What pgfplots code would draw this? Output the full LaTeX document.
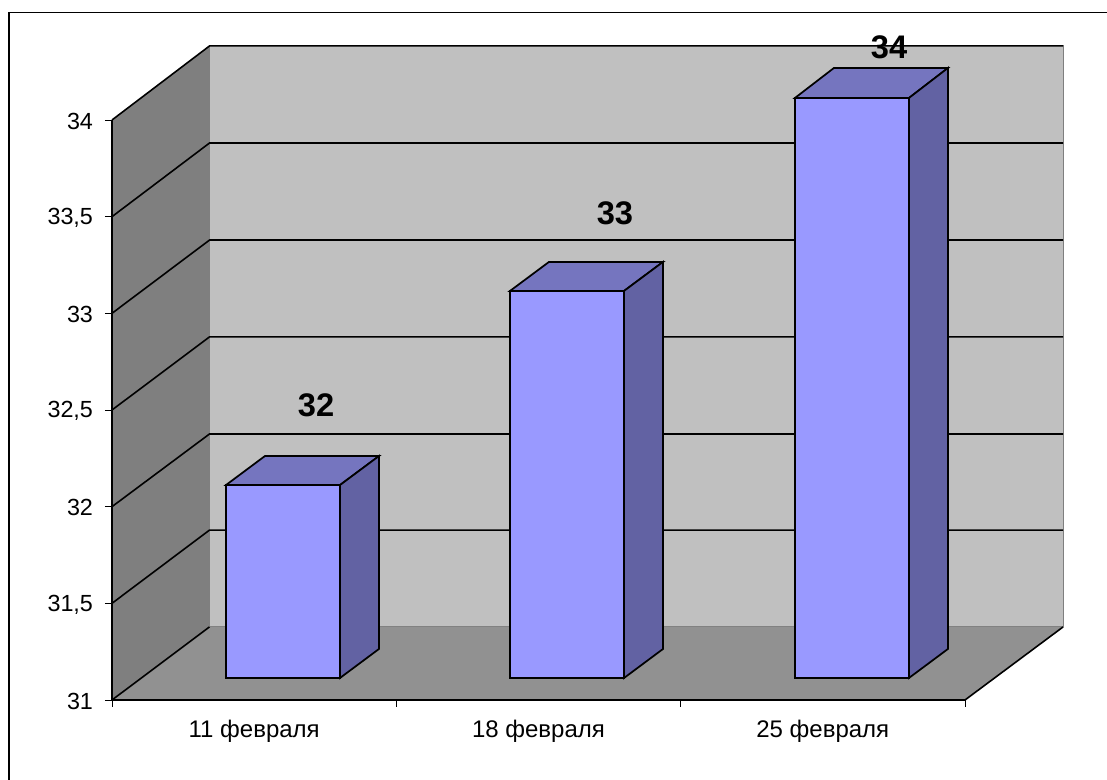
\documentclass[border=0pt]{standalone}
\usepackage{pgfplots}
\pgfplotsset{compat=1.18}
\usepackage{fontspec}
\setmainfont{Liberation Sans}
\definecolor{backwall}{HTML}{C0C0C0}
\definecolor{sidewall}{HTML}{7F7F7F}
\definecolor{floorcol}{HTML}{919191}
\definecolor{barfront}{HTML}{9999FF}
\definecolor{bartop}{HTML}{7575BF}
\definecolor{barside}{HTML}{6262A3}
\begin{document}
\begin{tikzpicture}[x=1pt,y=1pt]
  \useasboundingbox (-84,-60) rectangle (746.25,525);
  \draw[line width=0.9pt] (-77.25,-60) -- (-77.25,515.6) -- (746.25,515.6);
  \begin{axis}[at={(0,0)},anchor=origin,
               scale only axis,
               width=639.75pt, height=435pt,
               xmin=0, xmax=3, ymin=31, ymax=34,
               clip=false,
               axis on top,
               axis lines=left,
               axis line style={-,line width=1.3pt},
               xtick={0.5,1.5,2.5},
               xticklabels={11 февраля,18 февраля,25 февраля},
               minor xtick={0,1,2,3},
               ytick={31,31.5,32,32.5,33,33.5,34},
               major x tick style={draw=none},
               tick style={black,line width=0.7pt},
               minor tick length=5.25pt,
               major tick length=5.25pt,
               tick align=outside,
               xticklabel style={font=\fontsize{18}{18}\selectfont,yshift=-6.5pt},
               yticklabel style={font=\fontsize{17.5}{17}\selectfont,xshift=-5.5pt,yshift=-0.8pt},
               /pgf/number format/use comma,
               /pgf/number format/assume math mode=true,
               yticklabel={\pgfmathprintnumber[fixed,precision=1]{\tick}}]
   % walls and floor
   \addplot[fill=backwall,draw=sidewall,line width=0.8pt] coordinates{(0.343,31.378)(3.345,31.378)(3.345,34.383)(0.343,34.383)} -- cycle;
   \addplot[fill=sidewall,draw=none] coordinates{(0,31)(0.343,31.378)(0.343,34.383)(0,34)} -- cycle;
   \addplot[fill=floorcol,draw=none] coordinates{(0,31)(3,31)(3.345,31.378)(0.343,31.378)} -- cycle;
   \addplot[black,line width=1.2pt] coordinates{(0,34)(0.343,34.383)(3.345,34.383)};
   \addplot[black,line width=1.2pt] coordinates{(0,31)(0.343,31.378)};
   \addplot[black,line width=1.2pt] coordinates{(3,31)(3.345,31.378)};
   % grid
   \addplot[black,line width=1.2pt] coordinates{(0,31.5)(0.343,31.879)(3.345,31.879)};
   \addplot[black,line width=1.2pt] coordinates{(0,32)(0.343,32.376)(3.345,32.376)};
   \addplot[black,line width=1.2pt] coordinates{(0,32.5)(0.343,32.878)(3.345,32.878)};
   \addplot[black,line width=1.2pt] coordinates{(0,33)(0.343,33.379)(3.345,33.379)};
   \addplot[black,line width=1.2pt] coordinates{(0,33.5)(0.343,33.881)(3.345,33.881)};
   % 11 февраля
   \addplot[fill=barfront,draw=black,line width=1.3pt] coordinates{(0.401,31.114)(0.802,31.114)(0.802,32.112)(0.401,32.112)} -- cycle;
   \addplot[fill=bartop,draw=black,line width=1.3pt] coordinates{(0.401,32.112)(0.802,32.112)(0.939,32.262)(0.538,32.262)} -- cycle;
   \addplot[fill=barside,draw=black,line width=1.3pt] coordinates{(0.802,31.114)(0.939,31.264)(0.939,32.262)(0.802,32.112)} -- cycle;
   % 18 февраля
   \addplot[fill=barfront,draw=black,line width=1.3pt] coordinates{(1.400,31.114)(1.801,31.114)(1.801,33.116)(1.400,33.116)} -- cycle;
   \addplot[fill=bartop,draw=black,line width=1.3pt] coordinates{(1.400,33.116)(1.801,33.116)(1.938,33.266)(1.537,33.266)} -- cycle;
   \addplot[fill=barside,draw=black,line width=1.3pt] coordinates{(1.801,31.114)(1.938,31.264)(1.938,33.266)(1.801,33.116)} -- cycle;
   % 25 февраля
   \addplot[fill=barfront,draw=black,line width=1.3pt] coordinates{(2.402,31.114)(2.803,31.114)(2.803,34.114)(2.402,34.114)} -- cycle;
   \addplot[fill=bartop,draw=black,line width=1.3pt] coordinates{(2.402,34.114)(2.803,34.114)(2.940,34.269)(2.539,34.269)} -- cycle;
   \addplot[fill=barside,draw=black,line width=1.3pt] coordinates{(2.803,31.114)(2.940,31.264)(2.940,34.269)(2.803,34.114)} -- cycle;
   % value labels
   \addplot[draw=none,mark=none,nodes near coords,point meta=explicit symbolic,
            nodes near coords style={anchor=center,inner sep=0pt,font=\fontsize{24.5}{24}\selectfont\bfseries}]
     coordinates{(0.718,32.522)[32] (1.769,33.518)[33] (2.733,34.378)[34]};
  \end{axis}
\end{tikzpicture}
\end{document}
